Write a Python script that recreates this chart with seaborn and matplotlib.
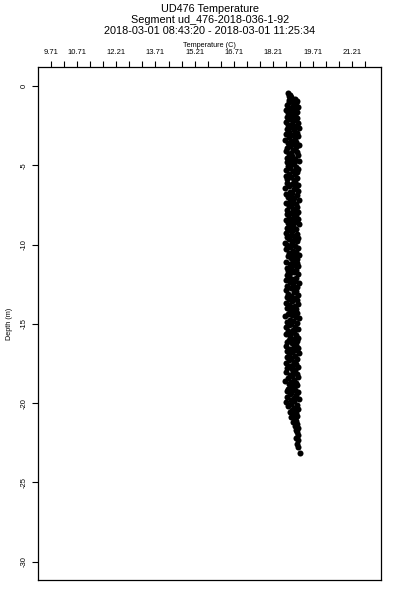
import numpy as np
import matplotlib
matplotlib.use("Agg")
import matplotlib.pyplot as plt
import seaborn as sns

# CTD profile: depth (m, positive down) and temperature (C)
depth = [
    0.45, 0.55, 0.62, 0.72, 0.80, 0.88, 0.95, 0.98,
    1.02, 1.09, 1.17, 1.23, 1.31, 1.38, 1.44, 1.52, 1.59, 1.66, 1.72, 1.80, 1.87, 1.95,
    2.03, 2.10, 2.16, 2.24, 2.31, 2.37, 2.45, 2.52, 2.58, 2.66, 2.73, 2.79, 2.87, 2.94,
    3.02, 3.08, 3.16, 3.23, 3.30, 3.38, 3.44, 3.51, 3.59, 3.65, 3.73, 3.80, 3.86, 3.94,
    4.01, 4.09, 4.15, 4.23, 4.30, 4.36, 4.44, 4.51, 4.58, 4.65, 4.72, 4.79, 4.86, 4.93,
    5.02, 5.08, 5.16, 5.22, 5.30, 5.37, 5.44, 5.52, 5.58, 5.66, 5.73, 5.80, 5.87, 5.94,
    6.03, 6.09, 6.17, 6.24, 6.30, 6.38, 6.45, 6.51, 6.59, 6.66, 6.72, 6.80, 6.87, 6.95,
    7.01, 7.09, 7.16, 7.23, 7.31, 7.37, 7.44, 7.52, 7.58, 7.65, 7.73, 7.79, 7.87, 7.94,
    8.02, 8.10, 8.16, 8.23, 8.30, 8.38, 8.44, 8.51, 8.59, 8.66, 8.72, 8.80, 8.86, 8.94,
    9.03, 9.09, 9.16, 9.24, 9.31, 9.37, 9.45, 9.52, 9.58, 9.65, 9.73, 9.80, 9.87, 9.93,
    10.02, 10.08, 10.16, 10.23, 10.30, 10.38, 10.44, 10.52, 10.59, 10.65, 10.72, 10.80, 10.87, 10.94,
    11.01, 11.09, 11.17, 11.23, 11.31, 11.37, 11.45, 11.51, 11.58, 11.66, 11.73, 11.79, 11.87, 11.95,
    12.03, 12.09, 12.16, 12.24, 12.30, 12.37, 12.44, 12.52, 12.59, 12.65, 12.73, 12.80, 12.86, 12.94,
    13.02, 13.10, 13.16, 13.23, 13.31, 13.38, 13.44, 13.51, 13.58, 13.66, 13.72, 13.80, 13.87, 13.94,
    14.01, 14.08, 14.16, 14.24, 14.30, 14.37, 14.45, 14.52, 14.58, 14.65, 14.73, 14.80, 14.86, 14.93,
    15.02, 15.09, 15.17, 15.23, 15.30, 15.38, 15.44, 15.51, 15.59, 15.66, 15.72, 15.79, 15.87, 15.95,
    16.03, 16.10, 16.16, 16.23, 16.31, 16.37, 16.45, 16.52, 16.58, 16.65, 16.73, 16.80, 16.86, 16.94,
    17.01, 17.09, 17.15, 17.23, 17.30, 17.38, 17.44, 17.51, 17.59, 17.66, 17.72, 17.80, 17.87, 17.94,
    18.02, 18.08, 18.16, 18.24, 18.31, 18.37, 18.44, 18.52, 18.58, 18.66, 18.73, 18.79, 18.87, 18.94,
    19.03, 19.09, 19.17, 19.23, 19.30, 19.38, 19.45, 19.51, 19.59, 19.65, 19.72, 19.80, 19.86, 19.94,
    20.05, 20.12, 20.20, 20.28, 20.36, 20.45, 20.55, 20.63, 20.72, 20.82, 20.90,
    21.00, 21.10, 21.22, 21.33, 21.45, 21.58, 21.70, 21.85,
    22.00, 22.18, 22.35, 22.55, 22.75, 23.12,
]
temperature = [
    18.78, 18.84, 18.80, 18.90, 19.05, 18.82, 19.12, 18.95,
    18.80, 19.08, 18.72, 18.96, 19.15, 18.85, 19.01, 18.68, 18.91, 19.12, 18.77, 19.04, 18.89, 18.74,
    19.10, 18.83, 18.98, 18.70, 19.17, 18.93, 18.78, 19.06, 18.87, 19.19, 18.75, 19.00, 18.82, 19.13,
    18.71, 18.95, 19.14, 18.81, 19.03, 18.67, 18.90, 19.09, 18.76, 18.99, 19.18, 18.84, 19.07, 18.73,
    18.97, 18.69, 19.11, 18.88, 18.79, 19.16, 18.94, 18.74, 19.05, 18.86, 19.20, 18.72, 19.01, 18.92,
    18.78, 19.07, 18.85, 19.15, 18.70, 18.96, 19.10, 18.82, 19.02, 18.68, 18.89, 19.13, 18.75, 18.99,
    19.04, 18.73, 18.91, 19.17, 18.80, 19.08, 18.66, 18.98, 19.14, 18.84, 18.93, 18.71, 19.11, 18.87,
    18.76, 19.00, 19.18, 18.83, 18.95, 18.69, 19.06, 18.90, 18.79, 19.12, 18.97, 18.74, 19.03, 19.16,
    18.89, 18.72, 19.09, 18.99, 18.81, 19.15, 18.68, 18.92, 19.05, 18.77, 19.20, 18.85, 18.96, 18.73,
    19.07, 18.78, 18.94, 18.70, 19.13, 18.88, 19.01, 18.75, 19.17, 18.82, 18.98, 19.10, 18.67, 18.91,
    18.74, 19.02, 18.86, 19.14, 18.71, 18.97, 19.08, 18.80, 18.93, 19.19, 18.76, 19.04, 18.88, 19.11,
    18.95, 18.69, 19.12, 18.83, 19.00, 19.16, 18.73, 18.90, 19.06, 18.78, 18.99, 18.85, 19.15, 18.72,
    18.81, 19.09, 18.92, 18.68, 19.03, 18.84, 19.18, 18.96, 18.75, 19.11, 18.87, 19.01, 18.71, 19.07,
    18.98, 18.77, 19.14, 18.89, 18.72, 19.05, 18.82, 19.10, 18.94, 18.70, 19.17, 18.79, 19.02, 18.91,
    18.73, 19.06, 18.85, 18.99, 19.13, 18.76, 18.93, 18.67, 19.08, 19.20, 18.83, 18.97, 18.74, 19.12,
    18.90, 18.80, 19.04, 18.71, 19.15, 18.95, 18.78, 19.01, 18.88, 18.69, 19.09, 18.86, 19.16, 19.00,
    18.82, 19.11, 18.74, 18.92, 19.07, 18.68, 18.98, 19.14, 18.84, 19.03, 18.72, 18.94, 19.18, 18.79,
    19.02, 18.75, 18.89, 19.12, 18.81, 18.99, 18.70, 19.08, 18.96, 18.85, 19.15, 18.73, 18.91, 19.05,
    18.69, 18.97, 19.10, 18.83, 18.93, 19.17, 18.76, 19.01, 18.66, 18.88, 19.06, 18.80, 19.13, 18.95,
    18.94, 18.78, 19.04, 18.72, 19.16, 18.90, 18.84, 19.09, 18.74, 19.00, 19.19, 18.87, 18.98, 18.71,
    18.88, 19.10, 18.78, 19.00, 19.15, 18.93, 18.84, 19.06, 18.97, 19.13, 18.90,
    19.02, 19.09, 18.95, 19.12, 19.04, 19.16, 19.07, 19.11,
    19.14, 19.08, 19.17, 19.12, 19.16, 19.21,
]

# axis ticks
temp_ticks = [9.71 + 0.5 * k for k in range(25)]
temp_tick_labels = {0: "9.71", 2: "10.71", 5: "12.21", 8: "13.71", 11: "15.21",
                    14: "16.71", 17: "18.21", 20: "19.71", 23: "21.21"}
depth_ticks = [0, -5, -10, -15, -20, -25, -30]

sns.set_style("ticks")
plt.rcParams['font.family'] = ['Liberation Sans', 'DejaVu Sans']
plt.rcParams.update({"text.color": "black", "axes.labelcolor": "black",
                     "xtick.color": "black", "ytick.color": "black"})

fig = plt.figure(figsize=(4, 6), dpi=100)
ax = fig.add_axes([0.0958, 0.0333, 0.8567, 0.8545])

sns.scatterplot(x=temperature, y=[-d for d in depth], color="black", s=19,
                linewidth=0, ax=ax)

ax.set_xlim(9.237, 22.32)
ax.set_ylim(-31.16, 1.18)

ax.xaxis.tick_top()
ax.xaxis.set_label_position('top')
ax.set_xticks(temp_ticks)
ax.set_xticklabels([temp_tick_labels.get(i, "") for i in range(len(temp_ticks))])
ax.set_yticks(depth_ticks)
ax.set_yticklabels([str(v) for v in depth_ticks], rotation=90, va="center")

ax.tick_params(axis="x", length=4.5, width=0.8, labelsize=5.5, pad=4,
               color="black", labelcolor="black")
ax.tick_params(axis="y", length=4.5, width=0.8, labelsize=5.5, pad=3,
               color="black", labelcolor="black")
for s in ax.spines.values():
    s.set_linewidth(0.9)
    s.set_color("black")

ax.set_xlabel("Temperature (C)", fontsize=5.2, labelpad=1, color="black")
ax.set_ylabel("Depth (m)", fontsize=5.2, labelpad=6, color="black")

cx = 0.0958 + 0.8567 / 2
fig.text(cx, 1 - 8.5 / 600, "UD476 Temperature", ha="center", va="center",
         fontsize=7.8, color="black")
fig.text(cx, 1 - 20 / 600, "Segment ud_476-2018-036-1-92", ha="center", va="center",
         fontsize=7.8, color="black")
fig.text(cx, 1 - 31.5 / 600, "2018-03-01 08:43:20 - 2018-03-01 11:25:34",
         ha="center", va="center", fontsize=7.8, color="black")

fig.savefig("out.png", dpi=100)
plt.close(fig)
